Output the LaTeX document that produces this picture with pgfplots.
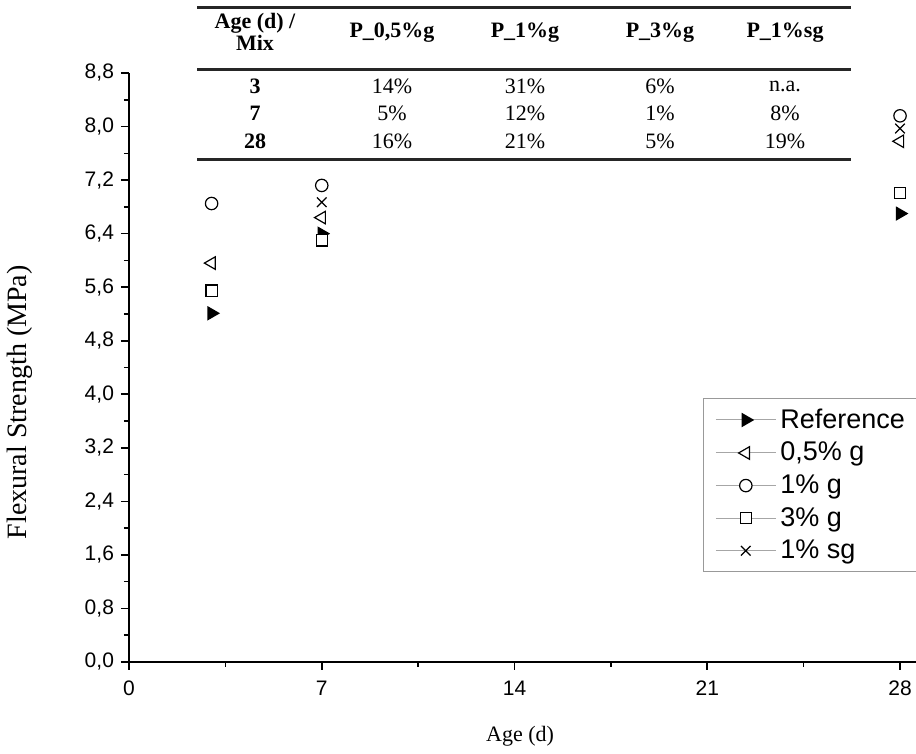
\documentclass[border=0pt]{standalone}
\usepackage{pgfplots}
\pgfplotsset{compat=1.18}
\usepackage{fontspec}
\setmainfont{Liberation Serif}
\newfontfamily\arial{Liberation Sans}
\begin{document}
\begin{tikzpicture}
\useasboundingbox (-64.5pt,-46pt) rectangle (393.5pt,331pt);
\begin{axis}[
  at={(0,0)}, anchor=south west,
  scale only axis, width=393.5pt, height=294.5pt,
  xmin=0, xmax=28.58, ymin=0, ymax=8.8,
  axis x line*=bottom, axis y line*=left,
  axis line style={line width=1pt},
  xtick={0,7,14,21,28}, minor xtick={3.5,10.5,17.5,24.5},
  ytick={0,0.8,1.6,2.4,3.2,4.0,4.8,5.6,6.4,7.2,8.0,8.8},
  minor ytick={0.4,1.2,2.0,2.8,3.6,4.4,5.2,6.0,6.8,7.6,8.4},
  tick align=outside, major tick length=4pt, minor tick length=2.5pt,
  every tick/.style={black, line width=0.8pt},
  ticklabel style={font=\arial\fontsize{10.5}{12}\selectfont},
  /pgf/number format/assume math mode=true,
  x tick label style={yshift=-2pt},
  y tick label style={/pgf/number format/.cd, use comma, fixed, fixed zerofill, precision=1},
  xlabel={Age (d)}, ylabel={Flexural Strength (MPa)},
  xlabel style={at={(axis description cs:0.497,-0.126)}, anchor=center, font=\fontsize{11}{13}\selectfont},
  ylabel style={at={(axis description cs:-0.1385,0.441)}, anchor=center, font=\fontsize{14}{16}\selectfont},
  clip=false,
  legend cell align=left,
  legend style={at={(axis description cs:0.729,0.448)}, anchor=north west,
    draw=gray!80, line width=0.6pt, font=\arial\fontsize{13.5}{15}\selectfont,
    row sep=1.4pt, inner xsep=6pt, inner ysep=3pt},
  legend image code/.code={
    \draw[gray!70, line width=0.5pt] (0pt,0pt) -- (30pt,0pt);
    \draw[mark repeat=2, mark phase=2, #1] plot coordinates {(0pt,0pt) (15pt,0pt) (30pt,0pt)};
  },
]
\addplot[only marks, black, line width=0.6pt, mark=triangle*, mark size=3.6pt, mark options={rotate=-90, fill=black}]
  coordinates {(3,5.21) (7,6.40) (28,6.70)};
\addlegendentry{Reference}
\addplot[only marks, black, line width=0.6pt, mark=triangle*, mark size=3.6pt, mark options={rotate=90, fill=white}]
  coordinates {(3,5.96) (7,6.64) (28,7.78)};
\addlegendentry{0,5\% g}
\addplot[only marks, black, line width=0.6pt, mark=*, mark size=3.1pt, mark options={fill=white}]
  coordinates {(3,6.85) (7,7.12) (28,8.16)};
\addlegendentry{1\% g}
\addplot[only marks, black, line width=0.6pt, mark=square*, mark size=2.8pt, mark options={fill=white}]
  coordinates {(3,5.55) (7,6.30) (28,7.01)};
\addlegendentry{3\% g}
\addplot[only marks, black, line width=0.6pt, mark=x, mark size=3.4pt]
  coordinates {(7,6.87) (28,7.97)};
\addlegendentry{1\% sg}
\end{axis}
% inset table
\draw[black!85, line width=1.5pt] (34pt,327pt) -- (361pt,327pt);
\draw[black!85, line width=1.5pt] (34pt,296pt) -- (361pt,296pt);
\draw[black!85, line width=1.5pt] (34pt,251pt) -- (361pt,251pt);
\begin{scope}[every node/.style={font=\fontsize{11}{12}\selectfont, inner sep=0pt, anchor=center}]
\node at (63pt,319.5pt) {\bfseries Age (d) /};
\node at (63pt,309.5pt) {\bfseries Mix};
\node at (131.5pt,314.5pt) {\bfseries P\_0,5\%g};
\node at (198pt,314.5pt) {\bfseries P\_1\%g};
\node at (265.5pt,314.5pt) {\bfseries P\_3\%g};
\node at (328pt,314.5pt) {\bfseries P\_1\%sg};
\node at (63pt,288pt) {\bfseries 3};
\node at (131.5pt,288pt) {14\%};
\node at (198pt,288pt) {31\%};
\node at (265.5pt,288pt) {6\%};
\node at (328pt,288pt) {n.a.};
\node at (63pt,274.5pt) {\bfseries 7};
\node at (131.5pt,274.5pt) {5\%};
\node at (198pt,274.5pt) {12\%};
\node at (265.5pt,274.5pt) {1\%};
\node at (328pt,274.5pt) {8\%};
\node at (63pt,260.5pt) {\bfseries 28};
\node at (131.5pt,260.5pt) {16\%};
\node at (198pt,260.5pt) {21\%};
\node at (265.5pt,260.5pt) {5\%};
\node at (328pt,260.5pt) {19\%};
\end{scope}
\end{tikzpicture}
\end{document}
